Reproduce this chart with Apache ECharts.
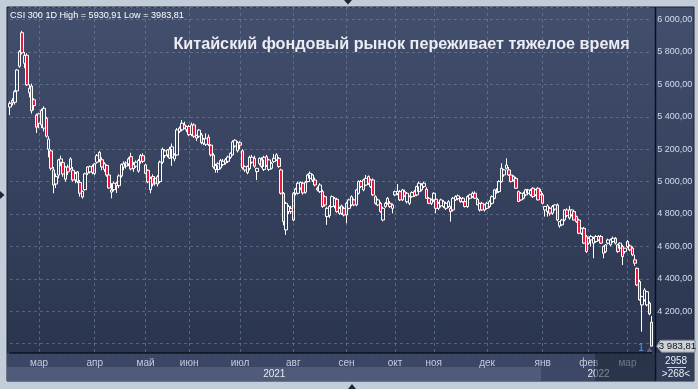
<!DOCTYPE html>
<html><head><meta charset="utf-8">
<script src="https://cdn.jsdelivr.net/npm/echarts@6/dist/echarts.min.js"></script>
<style>html,body{margin:0;padding:0;background:#c3ccd9;}#c{width:698px;height:389px;}</style>
</head><body><div id="c"></div>
<script>
// ---- data (CSI 300, daily) ----
const opens = [5460,5500,5490,5560,5712,5919,5730,5780,5548,5590,
5505,5410,5360,5440,5330,5391,5200,5190,5072,4985,
5040,5120,5117,5015,5090,5080,5070,5010,5060,4995,
4905,4950,5052,5060,5095,5050,5120,5180,5135,5075,
5100,5041,4935,4950,4990,4975,5035,5090,5095,5110,
5154,5080,5095,5065,5125,5160,5103,5070,4950,5031,
4990,5030,5000,5120,5160,5165,5200,5150,5140,5164,
5310,5320,5350,5320,5340,5290,5350,5268,5280,5288,
5237,5230,5274,5225,5164,5075,5075,5085,5105,5115,
5125,5150,5165,5220,5190,5240,5190,5072,5055,5080,
5120,5144,5062,5110,5134,5075,5154,5075,5082,5123,
5134,5144,5072,4928,4702,4815,4835,4763,4928,4928,
4960,4990,4935,5000,5020,5010,5010,4959,4938,4938,
4907,4784,4790,4846,4850,4891,4804,4850,4835,4794,
4835,4856,4887,4856,4928,5000,4949,4979,5031,4969,
5010,4907,4856,4866,4763,4846,4866,4866,4835,4918,
4925,4938,4887,4938,4876,4866,4907,4938,4918,4938,
4949,4969,4953,4897,4866,4887,4891,4835,4850,4846,
4835,4846,4835,4825,4887,4895,4897,4876,4876,4846,
4897,4907,4928,4891,4825,4866,4825,4835,4846,4866,
4897,4940,4938,5000,5041,5082,5072,5041,5010,5020,
4938,4887,4928,4918,4928,4918,4959,4918,4959,4940,
4918,4825,4815,4835,4805,4830,4856,4726,4733,4763,
4825,4775,4795,4815,4784,4763,4681,4712,4661,4620,
4640,4620,4630,4640,4661,4558,4568,4620,4610,4630,
4650,4609,4589,4599,4568,4599,4603,4590,4517,4465,
4383,4239,4270,4239,4249,4132];
const closes = [5483,5487,5555,5689,5802,5795,5779,5597,5576,5437,
5469,5336,5418,5350,5452,5280,5262,5082,4979,5031,
5134,5140,5047,5090,5060,5140,5010,5050,5000,4928,
4940,5048,5090,5092,5056,5110,5160,5135,5090,5110,
5040,4960,4948,4990,4975,5035,5105,5110,5115,5140,
5078,5105,5120,5130,5160,5125,5051,4998,5020,4985,
5020,4985,5120,5200,5190,5195,5145,5215,5164,5319,
5330,5360,5330,5340,5290,5350,5280,5285,5318,5240,
5262,5265,5228,5165,5090,5100,5110,5130,5125,5135,
5152,5175,5245,5255,5240,5225,5085,5092,5093,5150,
5150,5095,5082,5144,5093,5150,5100,5134,5113,5144,
5165,5093,4928,4753,4866,4846,4815,4928,4953,4990,
4995,4930,4995,5041,5051,5041,4979,4949,4979,4846,
4856,4835,4846,4907,4897,4815,4835,4804,4794,4866,
4887,4907,4856,4949,5000,4969,5010,5020,4990,5010,
4918,4866,4887,4815,4835,4866,4897,4846,4856,4938,
4940,4887,4949,4912,4928,4907,4932,4912,4969,4990,
4979,4990,4897,4866,4887,4928,4835,4866,4887,4876,
4866,4876,4815,4897,4907,4912,4876,4897,4846,4907,
4918,4928,4897,4856,4866,4825,4856,4866,4876,4907,
4949,4932,5000,5082,5072,5102,5041,5000,5031,4959,
4877,4928,4897,4949,4949,4945,4907,4949,4887,4920,
4866,4846,4850,4805,4846,4856,4763,4753,4763,4825,
4790,4825,4825,4763,4753,4681,4712,4620,4568,4650,
4661,4650,4661,4661,4620,4599,4609,4640,4640,4650,
4620,4568,4620,4537,4589,4630,4578,4548,4496,4362,
4270,4290,4331,4320,4183,3983.81];
const lows = [5411,5470,5475,5548,5702,5785,5700,5590,5520,5420,
5440,5300,5330,5330,5310,5270,5150,5070,4928,4960,
5020,5095,5030,5000,5040,5070,5000,4990,4990,4907,
4895,4945,5040,5050,5045,5040,5110,5120,5070,5060,
5030,4955,4897,4940,4930,4960,5025,5070,5080,5095,
5070,5060,5085,5055,5110,5115,5045,4990,4928,4970,
4975,4970,4990,5110,5145,5150,5140,5097,5125,5160,
5300,5310,5325,5305,5280,5280,5270,5250,5270,5230,
5225,5220,5220,5155,5080,5055,5055,5075,5095,5105,
5115,5140,5160,5210,5180,5200,5075,5060,5045,5070,
5110,5085,5010,5100,5085,5065,5090,5065,5075,5115,
5128,5085,4920,4730,4671,4800,4800,4755,4915,4920,
4950,4920,4925,4995,5010,4998,4970,4940,4930,4838,
4845,4733,4775,4840,4835,4808,4795,4795,4785,4743,
4828,4848,4848,4848,4920,4960,4940,4972,4980,4960,
4910,4858,4848,4808,4755,4838,4858,4838,4804,4910,
4915,4880,4880,4905,4865,4855,4900,4905,4910,4930,
4940,4960,4895,4860,4855,4875,4804,4825,4840,4838,
4825,4838,4753,4815,4880,4885,4870,4870,4840,4838,
4890,4900,4895,4855,4815,4820,4815,4828,4838,4858,
4890,4925,4930,4995,5030,5075,5035,4995,5000,4955,
4875,4880,4890,4910,4920,4910,4900,4910,4885,4915,
4860,4784,4784,4790,4795,4820,4755,4715,4725,4755,
4780,4765,4785,4760,4745,4675,4670,4615,4560,4610,
4599,4527,4622,4632,4615,4527,4560,4612,4600,4622,
4612,4560,4580,4485,4555,4590,4570,4540,4480,4355,
4265,4074,4260,4230,4175,3983.81];
const highs = [5495,5515,5565,5695,5812,5930.91,5800,5792,5600,5605,
5515,5420,5425,5450,5465,5400,5280,5200,5090,5050,
5140,5160,5125,5095,5105,5150,5090,5060,5065,5010,
4945,5055,5095,5100,5105,5115,5170,5190,5150,5120,
5105,5050,4990,5000,5000,5045,5112,5125,5125,5150,
5178,5120,5130,5140,5170,5175,5110,5075,5030,5045,
5030,5040,5130,5210,5200,5200,5215,5235,5175,5330,
5340,5380,5370,5345,5350,5364,5360,5290,5325,5300,
5270,5298,5290,5230,5175,5110,5120,5140,5140,5145,
5160,5180,5255,5262,5250,5250,5200,5100,5100,5160,
5165,5160,5085,5150,5150,5160,5165,5140,5120,5171,
5175,5152,5080,4935,4875,4856,4850,4935,4962,5000,
5000,5000,5005,5048,5062,5048,5025,4970,4990,4950,
4915,4845,4855,4915,4905,4900,4845,4858,4845,4875,
4895,4915,4895,4955,5008,5010,5018,5041,5038,5018,
5020,4915,4895,4875,4845,4875,4905,4880,4865,4945,
4985,4948,4955,4950,4935,4915,4940,4948,4975,5000,
4990,5000,4965,4905,4895,4935,4900,4875,4895,4885,
4875,4885,4850,4905,4915,4920,4905,4905,4885,4915,
4925,4938,4940,4900,4870,4875,4860,4875,4885,4915,
4955,4960,5008,5113,5078,5144,5090,5050,5040,5030,
4945,4935,4938,4955,4955,4955,4965,4955,4965,4955,
4930,4850,4860,4845,4855,4860,4865,4755,4770,4830,
4835,4850,4830,4825,4790,4770,4715,4720,4670,4655,
4670,4660,4670,4670,4670,4605,4615,4648,4648,4661,
4658,4615,4625,4610,4590,4640,4612,4600,4548,4470,
4395,4295,4342,4325,4260,4170];
const monthLabels = ['мар','апр','май','июн','июл','авг','сен','окт','ноя','дек','янв','фев','мар'];
const monthStarts = [12,35,56,74,95,117,139,159,175,197,220,239,255];
const yearLabels = ['2021','2022'];
const yearStarts = [0,220];
const titleText = 'Китайский фондовый рынок переживает тяжелое время';
const barsInfo = ['2958','>268<'];

// ---- chart ----
const FONT = '"Liberation Sans", Arial, sans-serif';
const chart = echarts.init(document.getElementById('c'), null, {renderer:'canvas', width:698, height:389});
const candles = opens.map((o,i)=>[o, closes[i], lows[i], highs[i]]);
const days = opens.map((_,i)=>i);
const monthAt = new Map(monthStarts.map((d,k)=>[d, monthLabels[k]]));
const yMin = 3941.98, yMax = 6077.78;
function fmtPrice(v, sep){
  const p = v.toFixed(2).split('.');
  return p[0].replace(/\B(?=(\d{3})+(?!\d))/g, sep) + ',' + p[1];
}
const gridColor = 'rgba(128,143,178,0.5)';
chart.setOption({
  backgroundColor: '#c3ccd9',
  animation: false,
  grid: {left: 9.94, right: 46.29, top: 7, bottom: 36, containLabel: false, outerBoundsMode: 'none'},
  xAxis: {
    type: 'category', data: days, boundaryGap: false,
    axisLine: {show: true, lineStyle: {color: '#0b101c', width: 1.5}},
    axisTick: {show: false},
    axisLabel: {interval: (i)=>monthAt.has(i), formatter: (v,i)=>monthAt.get(i)||'',
      color: '#c3cce0', fontSize: 10, fontFamily: FONT, margin: 5},
    splitLine: {show: true, interval: (i)=>monthAt.has(i), lineStyle: {color: gridColor, type: [3,3], width: 1}}
  },
  yAxis: {
    type: 'value', position: 'right', min: yMin, max: yMax, splitNumber: 10, minInterval: 200, maxInterval: 200,
    axisLine: {show: false}, axisTick: {show: false},
    axisLabel: {showMinLabel: false, showMaxLabel: false, formatter: (v)=>fmtPrice(v,' '),
      color: '#d3dcee', fontSize: 9, fontFamily: FONT, margin: 5.5},
    splitLine: {show: true, lineStyle: {color: gridColor, type: [3,3], width: 1}}
  },
  series: [{
    type: 'candlestick', data: candles, clip: false, barWidth: 3,
    itemStyle: {color: 'rgba(0,0,0,0)', color0: '#e8193c', borderColor: '#ffffff', borderColor0: '#ffffff', borderWidth: 1}
  }]
});

const px = i => chart.convertToPixel({xAxisIndex: 0}, i);
const py = v => chart.convertToPixel({yAxisIndex: 0}, v);
const axisY = py(yMin);
const band = px(1) - px(0);
const yearEdge = px(yearStarts[1]) - band/2;
const sepX = 655.5;
const last = closes[closes.length-1];
const lastY = py(last);
const hi = Math.max(...highs), lo = Math.min(...lows);
function txt(text, x, y, o){
  o = o || {};
  return {type:'text', silent:true, z: o.z||60, style:{text, x, y, fill: o.fill||'#ffffff',
    fontSize: o.size||10, fontFamily: FONT, fontWeight: o.weight||'normal',
    align: o.align||'center', verticalAlign: 'middle', textAlign: o.align||'center', textVerticalAlign: 'middle'}};
}
const g = [
  {type:'rect', silent:true, z:-10, shape:{x:7, y:7, width:687, height:374},
    style:{fill: new echarts.graphic.LinearGradient(0,0,0,1,[{offset:0,color:'#424f6d'},{offset:1,color:'#28324c'}]), stroke:'#1a2131', lineWidth:1}},
  {type:'rect', silent:true, z:-9, shape:{x:7, y:axisY, width:sepX-7, height:14}, style:{fill:'#3b4765'}},
  {type:'rect', silent:true, z:-9, shape:{x:7, y:axisY+14, width:yearEdge-7, height:381-axisY-14}, style:{fill:'#4f5b79'}},
  {type:'rect', silent:true, z:-9, shape:{x:yearEdge, y:axisY+14, width:sepX-yearEdge, height:381-axisY-14}, style:{fill:'#3d4866'}},
  {type:'rect', silent:true, z:-9, shape:{x:sepX, y:axisY, width:694-sepX, height:381-axisY}, style:{fill:'#323d58'}},
  {type:'line', silent:true, z:40, shape:{x1:sepX, y1:7, x2:sepX, y2:381}, style:{stroke:'#0b101c', lineWidth:1.5}},
  txt(yearLabels[0], (7+yearEdge)/2, 374.5, {fill:'#e4e9f2'}),
  txt(yearLabels[1], (yearEdge+sepX)/2, 374.5, {fill:'#e4e9f2'}),
  {type:'rect', silent:true, z:70, shape:{x:595, y:axisY+1, width:sepX-595, height:381-axisY-1}, style:{fill:'rgba(24,31,48,0.5)'}},
  txt('CSI 300 1D High = ' + fmtPrice(hi,'') + ' Low = ' + fmtPrice(lo,''), 10, 15, {align:'left', size:9.1}),
  txt(titleText, 401.5, 45, {size:16.2, weight:'bold', fill:'#ececf2'}),
  {type:'polygon', silent:true, z:60, shape:{points:[[656.5,lastY],[661.5,lastY-6],[695,lastY-6],[695,lastY+6],[661.5,lastY+6]]},
    style:{fill:'#cdd1d8', stroke:'#7f8796', lineWidth:1}},
  txt(fmtPrice(last,' '), 677.5, lastY, {size:9.6, fill:'#111111', z:61}),
  txt('1', 641, 348, {size:10, fill:'#5d9ee0'}),
  {type:'polygon', silent:true, z:60, shape:{points:[[646.5,352],[649.5,347],[652.5,352]]}, style:{fill:'#59627a'}},
  txt(barsInfo[0], 676, 361, {size:10, fill:'#e6ecf5'}),
  {type:'line', silent:true, z:60, shape:{x1:667, y1:367.5, x2:686, y2:367.5}, style:{stroke:'#c8d0e0', lineWidth:1}},
  txt(barsInfo[1], 676, 374.5, {size:10, fill:'#e6ecf5'}),
  {type:'polygon', silent:true, z:60, shape:{points:[[344,0],[352,0],[348,4.5]]}, style:{fill:'#1d2636'}},
  {type:'polygon', silent:true, z:60, shape:{points:[[348,389],[356,389],[352,384]]}, style:{fill:'#1d2636'}},
  {type:'polygon', silent:true, z:60, shape:{points:[[0,191],[0,199],[4.5,195]]}, style:{fill:'#1d2636'}}
];
chart.setOption({graphic: g});
</script>
</body></html>
